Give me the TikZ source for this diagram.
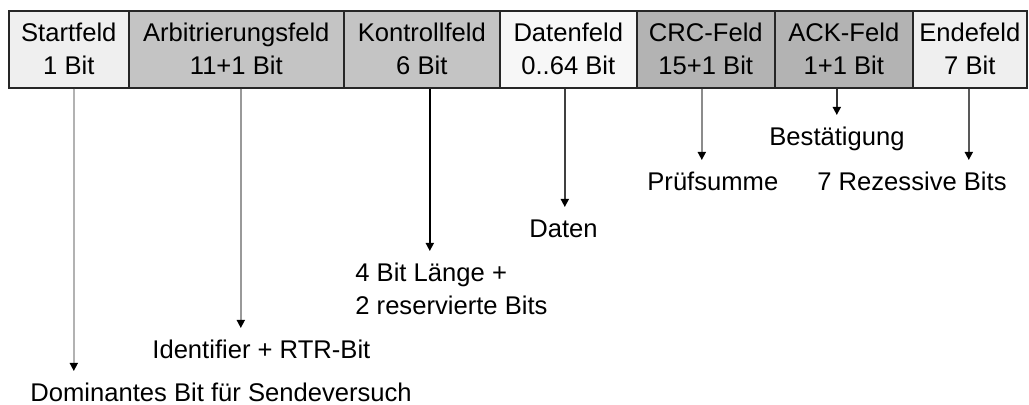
\documentclass[tikz,border=0pt]{standalone}
\usepackage{fontspec}
\setmainfont{Liberation Sans}
\usetikzlibrary{arrows.meta}
\usetikzlibrary{positioning}

\definecolor{light}{HTML}{EFEFEF}
\definecolor{pale}{HTML}{F7F7F7}
\definecolor{mid}{HTML}{C4C4C4}
\definecolor{dark}{HTML}{B3B3B3}

\begin{document}
\begin{tikzpicture}[x=0.5pt, y=-0.5pt, line join=miter]

    % one unit is one pixel of the original drawing,
    % \fieldtop is the upper edge of the frame fields.
    \pgfmathsetmacro{\fieldtop}{10}

    \useasboundingbox (0,0) rectangle (1029,405);

    \tikzset{%
      field/.style   = {draw=black!85, line width=0.8pt, minimum height=38.5pt,
                        inner sep=0pt, anchor=north west, align=center,
                        font=\fontsize{12.8}{16.5}\selectfont},
      note/.style    = {inner sep=0pt, anchor=north west,
                        align=left, font=\fontsize{12.8}{16.5}\selectfont},
      pointer/.style = {line width=0.8pt, shorten >=6pt,
                        -{Triangle[width=4pt, length=4pt, color=black]}}
    }

    % the seven fields of the frame
    \foreach \name/\x/\w/\shade/\title/\bits in {%
        start/8/120/light/Startfeld/1 Bit,
          arb/128/215/mid/Arbitrierungsfeld/11+1 Bit,
        ctrl/343/156/mid/Kontrollfeld/6 Bit,
        data/499/137/pale/Datenfeld/0..64 Bit,
         crc/636/138/dark/CRC-Feld/15+1 Bit,
         ack/774/138/dark/ACK-Feld/1+1 Bit,
         stop/912/114/light/Endefeld/7 Bit%
    }{
      \node[field, fill=\shade, minimum width=\w*0.5pt] (\name) at (\x,\fieldtop)
        {\title\\\bits};
    }

    % explanations below the fields
    \node[note] (dom)   at (30,383)  {Dominantes Bit für Sendeversuch};
    \node[note] (ident) at (152,340) {Identifier + RTR-Bit};
    \node[note] (len)   at (355,263) {4 Bit Länge +\\2 reservierte Bits};
    \node[note] (dat)   at (529,219) {Daten};
    \node[note] (sum)   at (647,172) {Prüfsumme};
    \node[note] (conf)  at (769,127) {Bestätigung};
    \node[note] (rez)   at (817,172) {7 Rezessive Bits};

    \foreach \from/\to/\dx/\tone in {%
        start/dom/5/black!30,
          arb/ident/4.5/black!40,
         ctrl/len/8/black,
         data/dat/-3.5/black!75,
          crc/sum/-4/black!45,
          ack/conf/-7/black!80,
         stop/rez/-1/black!65%
    }{
      \draw[pointer, draw=\tone]
        ([xshift=\dx*0.5pt]\from.south) -- ([xshift=\dx*0.5pt]\from.south |- \to.north);
    }
\end{tikzpicture}
\end{document}
